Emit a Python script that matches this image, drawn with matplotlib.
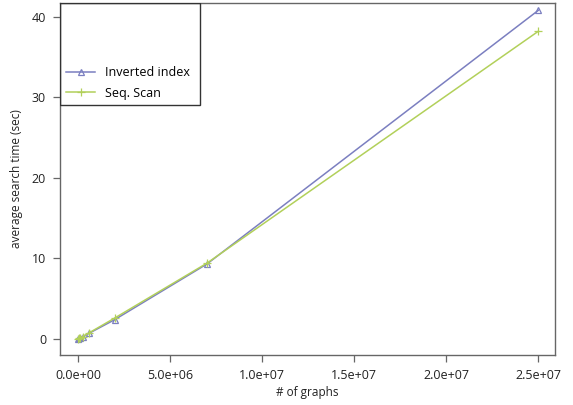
import matplotlib
matplotlib.use("Agg")
import matplotlib.pyplot as plt
from matplotlib.patches import Rectangle
from matplotlib.ticker import FuncFormatter

plt.rcParams['font.family'] = ['Open Sans', 'DejaVu Sans']

# number of graphs
graphs = [1e4, 5e4, 1e5, 2.5e5, 6e5, 2.0e6, 7.0e6, 2.5e7]
inverted = [0.02, 0.06, 0.12, 0.25, 0.7, 2.4, 9.3, 40.8]
seqscan = [0.02, 0.06, 0.12, 0.27, 0.75, 2.6, 9.4, 38.2]

blue = '#7b7fc0'
green = '#b2d05a'
gray = '#666666'

fig = plt.figure(figsize=(5.73, 4.05), dpi=100)
ax = fig.add_axes([60/573, 1 - 355/405, 495/573, 352/405])

ax.plot(graphs, inverted, color=blue, lw=1.1, marker='^', mfc='none',
        ms=5, mew=0.9, label='Inverted index')
ax.plot(graphs, seqscan, color=green, lw=1.1, marker='+',
        ms=6, mew=0.9, label='Seq. Scan')

ax.set_xlim(-9.8e5, 2.59e7)
ax.set_ylim(-2.0, 41.7)
ax.set_xticks([0, 5e6, 1e7, 1.5e7, 2e7, 2.5e7])
ax.set_yticks([0, 10, 20, 30, 40])
ax.xaxis.set_major_formatter(FuncFormatter(
    lambda v, p: ('%.1e' % v) if v else '0.0e+00'))

for s in ax.spines.values():
    s.set_color(gray)
    s.set_linewidth(1.0)
ax.tick_params(direction='out', length=5, width=0.9, color=gray,
               labelsize=9, labelcolor='#222222', pad=5)

ax.set_xlabel('# of graphs', fontsize=8.5, color='#222222', labelpad=3)
ax.set_ylabel('average search time (sec)', fontsize=8.5, color='#222222', labelpad=6)

# legend box like R's
ax.add_patch(Rectangle((0, 250/352), 140/495, 102/352, transform=ax.transAxes,
                       fill=False, ec='#333333', lw=1.0, zorder=5))
ax.legend(loc='upper left', bbox_to_anchor=(0.0, 1 - 57/352), frameon=False,
          fontsize=9, handlelength=2.3, handletextpad=0.8, labelspacing=0.6,
          borderaxespad=0.1)

fig.savefig('out.png', dpi=100)
